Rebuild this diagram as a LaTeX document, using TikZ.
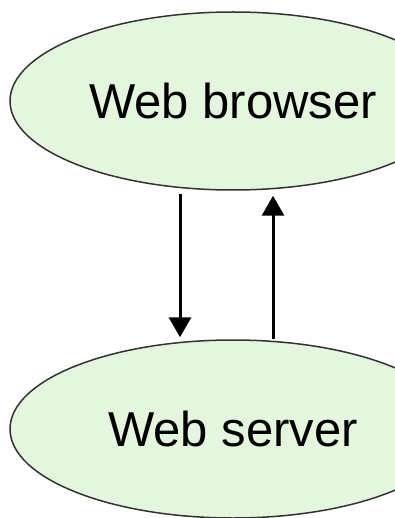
\documentclass[tikz,border=0pt]{standalone}
\usepackage{fontspec}
\setmainfont{Liberation Sans}
\usetikzlibrary{shapes.geometric,arrows.meta}
\definecolor{bubble}{RGB}{228,246,222}
\definecolor{rim}{RGB}{50,50,50}

\begin{document}
\begin{tikzpicture}[x=1pt, y=1pt,
    tier/.style={ellipse, draw=rim, fill=bubble, line width=1.5pt,
      minimum width=446pt, minimum height=178pt, inner sep=0pt,
      font=\fontsize{49}{58}\selectfont},
    flow/.style={line width=3pt, -{Triangle[length=20pt,width=22pt]}}]

  % picture frame, 395 x 518
  \useasboundingbox (0,0) rectangle (395,-518);
  \clip (0,0) rectangle (395,-518);

  \node[tier] (browser) at (233,-101) {Web browser};
  \node[tier] (server)  at (233,-429) {Web server};

  % request goes down, reply comes back up
  \draw[flow] ([xshift=-53pt,yshift=-3pt]browser.south) -- ([xshift=-53pt,yshift=2pt]server.north);
  \draw[flow] ([xshift=40pt]server.north) -- ([xshift=40pt,yshift=-5pt]browser.south);

\end{tikzpicture}
\end{document}
